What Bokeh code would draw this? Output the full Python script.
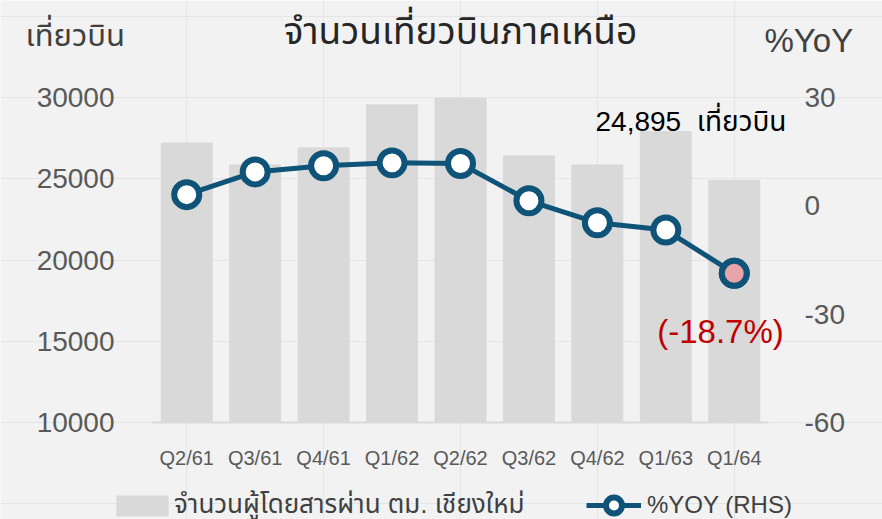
from bokeh.plotting import figure
from bokeh.models import (ColumnDataSource, Range1d, LinearAxis, FixedTicker,
                          Label, Legend, LegendItem)
from bokeh.embed import file_html
from bokeh.resources import INLINE

quarters = ["Q2/61", "Q3/61", "Q4/61", "Q1/62", "Q2/62", "Q3/62", "Q4/62", "Q1/63", "Q1/64"]
flights = [27200, 25850, 26900, 29550, 29950, 26400, 25850, 27900, 24895]
yoy = [3.1, 9.4, 11.1, 11.9, 11.7, 1.4, -4.7, -6.7, -18.7]
left_ticks = [10000, 15000, 20000, 25000, 30000]
right_ticks = [-60, -30, 0, 30]

FONT = "Liberation Sans, Noto Sans Thai, Noto Sans, sans-serif"
BG = "#f2f2f2"
LINE = "#0f5478"
W, H = 882, 519

# layout of the plotting area inside the canvas (pixels)
PL, PR, PT, PB = 152, 768, 97, 422
n = len(quarters)
xs = list(range(n))
ppx = (PR - PL) / n
x0 = -0.5 - PL / ppx
x1 = n - 0.5 + (W - PR) / ppx
ylo, yhi = left_ticks[0], left_ticks[-1]
upp = (yhi - ylo) / (PB - PT)
rlo, rhi = right_ticks[0], right_ticks[-1]
rpp = (rhi - rlo) / (PB - PT)

src = ColumnDataSource(dict(x=xs, f=flights, y=yoy))

p = figure(width=W, height=H, x_range=Range1d(x0, x1),
           y_range=Range1d(ylo - (H - PB) * upp, yhi + PT * upp),
           output_backend="svg", toolbar_location=None,
           x_axis_location=None, y_axis_location=None,
           min_border=0, min_border_left=0, min_border_right=0,
           min_border_top=0, min_border_bottom=0)
p.extra_y_ranges = {"yoy": Range1d(rlo - (H - PB) * rpp, rhi + PT * rpp)}
p.background_fill_color = BG
p.border_fill_color = BG
p.outline_line_color = None

bars = p.vbar(x="x", top="f", bottom=ylo, width=0.745, color="#d9d9d9", source=src)
ln = p.line(x="x", y="y", y_range_name="yoy", color=LINE, line_width=5, source=src)
pts = p.scatter(x="x", y="y", y_range_name="yoy", size=25, fill_color="white",
                line_color=LINE, line_width=6, source=src)
last = ColumnDataSource(dict(x=[xs[-1]], y=[yoy[-1]]))
p.scatter(x="x", y="y", y_range_name="yoy", size=25, fill_color="#e8a3ab",
          line_color=LINE, line_width=6, source=last)

def style(ax, size):
    ax.axis_line_color = None
    ax.major_tick_line_color = None
    ax.minor_tick_line_color = None
    ax.major_label_text_font = FONT
    ax.major_label_text_font_size = size
    ax.major_label_text_color = "#595959"

ya = LinearAxis(ticker=FixedTicker(ticks=left_ticks), fixed_location=-0.5)
style(ya, "28px")
ya.major_label_standoff = 32
p.add_layout(ya, "left")

ra = LinearAxis(y_range_name="yoy", ticker=FixedTicker(ticks=right_ticks), fixed_location=n - 0.5,
                major_label_overrides={t: str(t) for t in right_ticks})
style(ra, "28px")
ra.major_label_standoff = 30
p.add_layout(ra, "right")

xa = LinearAxis(ticker=FixedTicker(ticks=xs), fixed_location=ylo, bounds=(-0.5, n - 0.5),
                major_label_overrides={i: q for i, q in enumerate(quarters)})
style(xa, "20px")
xa.axis_line_color = "#d9d9d9"
xa.axis_line_width = 2
xa.major_label_standoff = 18
p.add_layout(xa, "below")

def lab(text, x, y, size, color="#404040", align="left"):
    p.add_layout(Label(x=x, y=H - y, x_units="screen", y_units="screen", text=text,
                       text_font=FONT, text_font_size=size, text_color=color,
                       text_align=align, text_baseline="middle"))

lab("จำนวนเที่ยวบินภาคเหนือ", 460, 31, "37px", "#262626", "center")
lab("เที่ยวบิน", 25, 35, "31px")
lab("%YoY", 764, 40, "33px")
lab("24,895\u00a0\u00a0เที่ยวบิน", 595, 121, "28px", "#000000")
lab("(-18.7%)", 720, 331, "33px", "#c00000", "center")

common = dict(orientation="horizontal", padding=0, margin=0, border_line_color=None,
              background_fill_alpha=0, label_text_font=FONT, label_text_color="#404040")
p.add_layout(Legend(items=[LegendItem(label="จำนวนผู้โดยสารผ่าน ตม. เชียงใหม่", renderers=[bars])],
                    location=(110, -6), glyph_width=64, glyph_height=25, label_standoff=0,
                    label_text_font_size="26px", **common))
p.add_layout(Legend(items=[LegendItem(label="%YOY (RHS)", renderers=[ln, pts])],
                    location=(586, -6), glyph_width=55, glyph_height=40, label_standoff=6,
                    label_text_font_size="24px", **common))

open("out.html", "w").write(file_html(p, INLINE))
